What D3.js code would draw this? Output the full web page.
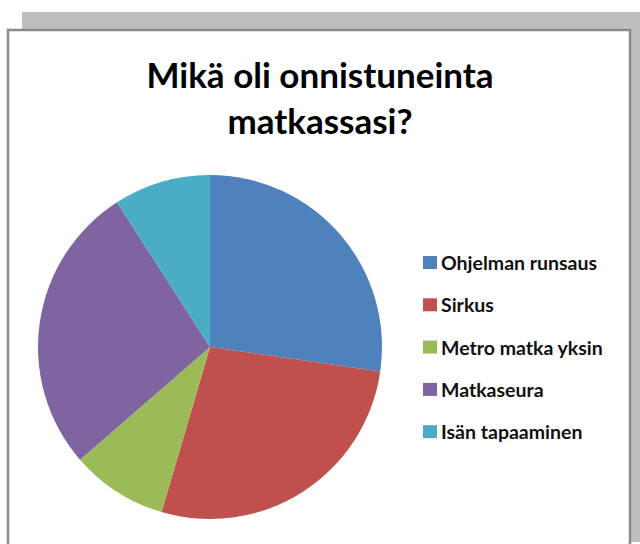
<!DOCTYPE html>
<html lang="fi">
<head>
<meta charset="utf-8">
<title>Mikä oli onnistuneinta matkassasi?</title>
<script src="https://d3js.org/d3.v7.min.js"></script>
<style>
  body { margin: 0; background: #fff; }
</style>
</head>
<body>
<script>
// data
const categories = ["Ohjelman runsaus", "Sirkus", "Metro matka yksin", "Matkaseura", "Isän tapaaminen"];
const values = [3, 3, 1, 3, 1];
const colors = ["#4F81BD", "#C0504D", "#9BBB59", "#8064A2", "#4BACC6"];
const titleLines = ["Mikä oli onnistuneinta", "matkassasi?"];

const W = 640, H = 544;
const font = "Lato, 'Open Sans', sans-serif";

const svg = d3.select("body").append("svg")
  .attr("width", W).attr("height", H);

// shadow + frame
svg.append("rect")
  .attr("x", 22).attr("y", 12).attr("width", W - 22).attr("height", 530)
  .attr("fill", "#bebebe");
svg.append("rect")
  .attr("x", 8).attr("y", 30).attr("width", 622).attr("height", 530)
  .attr("fill", "#fff").attr("stroke", "#8a8a8a").attr("stroke-width", 2.5);

// title
svg.append("g").selectAll("text")
  .data(titleLines).join("text")
  .attr("x", 320)
  .attr("y", (d, i) => 88 + i * 46)
  .attr("text-anchor", "middle")
  .attr("font-family", font)
  .attr("font-weight", "bold")
  .attr("font-size", 35)
  .attr("fill", "#000")
  .text(d => d);

// pie
const cx = 210, cy = 347, r = 172;
const pie = d3.pie().sort(null).value(d => d)(values);
const arc = d3.arc().innerRadius(0).outerRadius(r);
const color = d3.scaleOrdinal().domain(categories).range(colors);

svg.append("g")
  .attr("transform", `translate(${cx},${cy})`)
  .selectAll("path")
  .data(pie).join("path")
  .attr("d", arc)
  .attr("fill", (d, i) => color(categories[i]));

// legend
const legend = svg.append("g").selectAll("g")
  .data(categories).join("g")
  .attr("transform", (d, i) => `translate(423,${263 + i * 42.3})`);

legend.append("rect")
  .attr("x", 0).attr("y", -7)
  .attr("width", 14).attr("height", 13)
  .attr("fill", d => color(d));

legend.append("text")
  .attr("x", 18).attr("y", 0)
  .attr("dy", "0.36em")
  .attr("font-family", font)
  .attr("font-weight", "bold")
  .attr("font-size", 19.5)
  .attr("fill", "#111")
  .text(d => d);
</script>
</body>
</html>
